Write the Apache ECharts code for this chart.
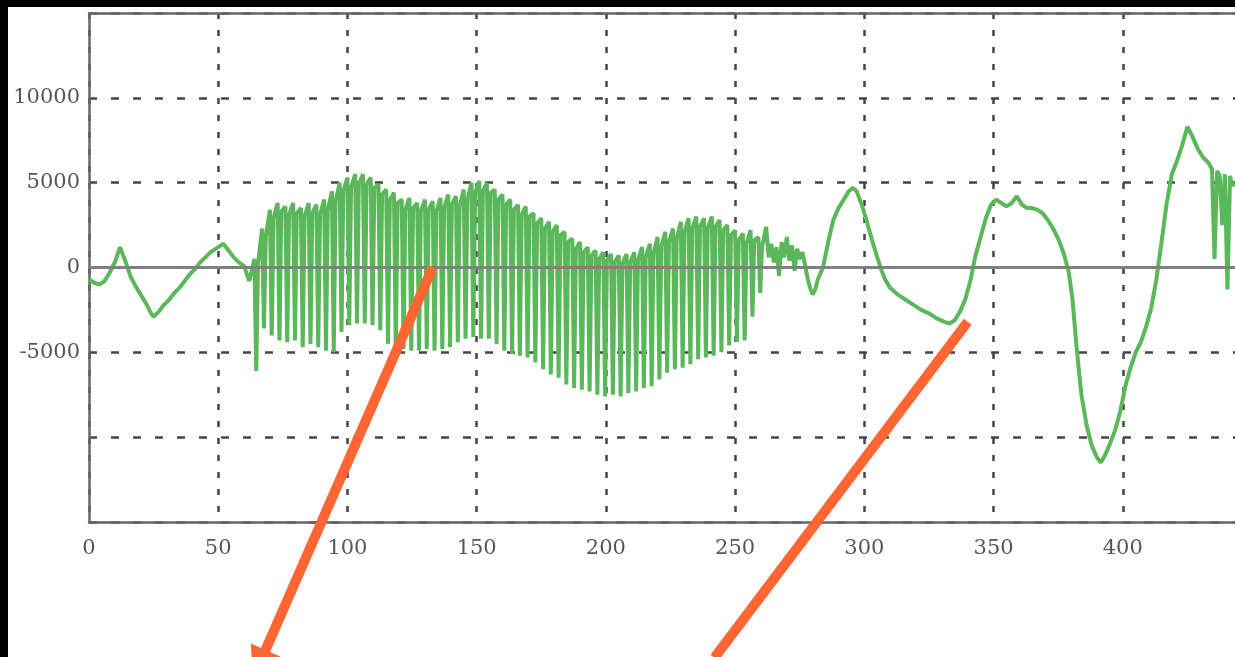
<!DOCTYPE html>
<html><head><meta charset="utf-8">
<script src="https://cdn.jsdelivr.net/npm/echarts@6/dist/echarts.min.js"></script>
<style>html,body{margin:0;padding:0;background:#fff}#c{width:1235px;height:657px}</style>
</head><body><div id="c"></div>
<script>
// tick labels shown on the axes
const yLabels = [10000, 5000, 0, -5000];
const xLabels = [0, 50, 100, 150, 200, 250, 300, 350, 400];

// signal: [sample, value]
const lead = [[0,-700],[2,-900],[4,-1000],[6,-800],[8,-300],[10,300],[12,1200],[14,400],[16,-500],[18,-1100],[20,-1600],[22,-2100],[24,-2700],[25,-2900],[27,-2600],[29,-2200],[31,-1900],[33,-1500],[35,-1200],[37,-800],[39,-400],[41,-100],[43,300],[45,600],[47,900],[49,1100],[51,1300],[52,1400],[54,1000],[56,600],[58,300],[60,100],[62,-800]];

const burst = [
[64,500],[64.7,-6100],[65.4,200],
[67,2300],[67.7,-3600],[68.4,1800],
[70,3400],[70.7,-4000],[71.4,2900],
[73,3800],[73.7,-4300],[74.4,3300],
[76,3600],[76.7,-4400],[77.4,3100],
[79,3800],[79.7,-4300],[80.4,3200],
[82,3500],[82.7,-4700],[83.4,3000],
[85,3800],[85.7,-4500],[86.4,3200],
[88,3700],[88.7,-4700],[89.4,3100],
[91,4000],[91.7,-4900],[92.4,3400],
[94,4500],[94.7,-5000],[95.4,3900],
[97,5000],[97.7,-3800],[98.4,4500],
[100,5300],[100.7,-3400],[101.4,4700],
[103,5500],[103.7,-3300],[104.4,4900],
[106,5500],[106.7,-3300],[107.4,4900],
[109,5300],[109.7,-3400],[110.4,4700],
[112,4900],[112.7,-3700],[113.4,4300],
[115,4600],[115.7,-4500],[116.4,4000],
[118,4400],[118.7,-4900],[119.4,3800],
[121,4000],[121.7,-4800],[122.4,3400],
[124,4100],[124.7,-4900],[125.4,3500],
[127,3800],[127.7,-4900],[128.4,3300],
[130,4000],[130.7,-4800],[131.4,3400],
[133,3900],[133.7,-4900],[134.4,3300],
[136,4100],[136.7,-4800],[137.4,3500],
[139,4300],[139.7,-4700],[140.4,3700],
[142,4200],[142.7,-4400],[143.4,3600],
[145,4600],[145.7,-4200],[146.4,4000],
[148,5000],[148.7,-4100],[149.4,4400],
[151,5100],[151.7,-4200],[152.4,4500],
[154,5000],[154.7,-4200],[155.4,4400],
[157,4600],[157.7,-4500],[158.4,4000],
[160,4300],[160.7,-4900],[161.4,3700],
[163,4000],[163.7,-5100],[164.4,3400],
[166,3700],[166.7,-5200],[167.4,3100],
[169,3600],[169.7,-5300],[170.4,3000],
[172,3200],[172.7,-5600],[173.4,2600],
[175,2900],[175.7,-6000],[176.4,2300],
[178,2700],[178.7,-6300],[179.4,2100],
[181,2500],[181.7,-6500],[182.4,1900],
[184,2100],[184.7,-6900],[185.4,1500],
[187,1700],[187.7,-7100],[188.4,1100],
[190,1500],[190.7,-7200],[191.4,900],
[193,1200],[193.7,-7300],[194.4,700],
[196,1000],[196.7,-7500],[197.4,500],
[199,900],[199.7,-7600],[200.4,400],
[202,800],[202.7,-7500],[203.4,300],
[205,700],[205.7,-7600],[206.4,200],
[208,800],[208.7,-7400],[209.4,300],
[211,900],[211.7,-7300],[212.4,400],
[214,1200],[214.7,-7100],[215.4,600],
[217,1400],[217.7,-7000],[218.4,800],
[220,1800],[220.7,-6600],[221.4,1200],
[223,2100],[223.7,-6200],[224.4,1500],
[226,2300],[226.7,-6000],[227.4,1700],
[229,2700],[229.7,-5900],[230.4,2100],
[232,2900],[232.7,-5700],[233.4,2300],
[235,3000],[235.7,-5400],[236.4,2400],
[238,2900],[238.7,-5300],[239.4,2300],
[241,3000],[241.7,-5200],[242.4,2400],
[244,2800],[244.7,-5000],[245.4,2200],
[247,2500],[247.7,-4600],[248.4,1900],
[250,2200],[250.7,-4400],[251.4,1600],
[253,2000],[253.7,-4300],[254.4,1400],
[256,2200],[256.7,-2900],[257.4,1600],
[259,1800],[259.7,-1500],[260.4,1200]
];

const noise = [[262,2400],[263,600],[264,1400],[265,300],[266,1200],[267,-500],[268,1500],[269,600],[270,1800],[271,400],[272,1300],[273,-200],[274,1100],[275,500],[276,900],[277,200],[278,-600],[279,-1200],[280,-1600],[281,-1300]];

const tail = [[282,-700],[284,0],[286,1500],[288,2800],[290,3500],[292,4000],[294,4500],[295.5,4700],[297,4500],[299,3700],[301,2700],[303,1600],[305,600],[306.5,-100],[308,-700],[310,-1200],[313,-1600],[316,-1900],[319,-2200],[322,-2500],[325,-2700],[328,-3000],[331,-3200],[333,-3300],[335,-3100],[337,-2600],[339,-1900],[341,-800],[343,700],[345,1800],[347,2900],[349,3700],[351,4000],[353,3800],[355,3600],[357,3800],[359,4200],[361,3700],[363,3500],[365,3500],[367,3400],[369,3200],[371,2800],[373,2300],[375,1700],[377,900],[379,-200],[380.5,-1800],[382,-4500],[384,-7500],[386,-9300],[388,-10500],[390,-11200],[391.5,-11500],[393,-11100],[395,-10400],[397,-9600],[399,-8500],[401,-7000],[403,-5900],[405,-5000],[407,-4400],[409,-3500],[411,-2400],[413,-700],[415,1500],[417,3800],[419,5500],[421,6300],[423,7200],[425,8300],[427,7700],[429,7000],[431,6500],[433,6200],[434.5,5800],[435.5,500],[436.5,5700],[437.5,5400],[438.5,2500],[439.5,5500],[440.5,-1300],[441.5,5400],[442.5,4800],[443,5000]];

const signal = lead.concat(burst, noise, tail);

// annotation arrows (data-space endpoints)
const arrows = [
  {from:[133,0], to:[67,-23000], head:true},
  {from:[340,-3200], to:[242,-23000], head:false}
];

const chart = echarts.init(document.getElementById('c'), null, {renderer:'canvas'});
const labelFont = {color:'#555', fontFamily:'DejaVu Serif', fontSize:21};
chart.setOption({
  animation:false,
  backgroundColor:'#fff',
  grid:{left:89, top:13, right:-17, bottom:135, containLabel:false, outerBoundsMode:'none'},
  xAxis:[{
    type:'value', min:0, max:450, interval:50,
    axisLine:{show:true, onZero:false, lineStyle:{color:'#666', width:2.5}},
    axisTick:{show:false},
    axisLabel:Object.assign({margin:16, formatter:v => xLabels.includes(v) ? String(v) : ''}, labelFont),
    splitLine:{show:true, lineStyle:{type:[6,11], color:'#444', width:2.5}}
  },{
    type:'value', position:'top', min:0, max:450,
    axisLine:{show:true, onZero:false, lineStyle:{color:'#666', width:2.5}},
    axisTick:{show:false}, axisLabel:{show:false}, splitLine:{show:false}
  }],
  yAxis:{
    type:'value', min:-15000, max:15000, interval:5000,
    axisLine:{show:true, onZero:false, lineStyle:{color:'#666', width:2.5}},
    axisTick:{show:false},
    axisLabel:Object.assign({margin:9, formatter:v => yLabels.includes(v) ? String(v) : ''}, labelFont),
    splitLine:{show:true, lineStyle:{type:[8,14], color:'#444', width:2.5}}
  },
  series:[{
    type:'line', data:signal, showSymbol:false, clip:true,
    lineStyle:{color:'#5ab85a', width:4},
    markLine:{silent:true, symbol:'none', label:{show:false},
      lineStyle:{color:'#808080', width:3, type:'solid'}, data:[{yAxis:0}]}
  }]
});

const g = [
  {type:'rect', shape:{x:0,y:0,width:8,height:657}, style:{fill:'#000'}, z:100},
  {type:'rect', shape:{x:0,y:0,width:1235,height:7}, style:{fill:'#000'}, z:100}
];
arrows.forEach(a => {
  const p1 = chart.convertToPixel({gridIndex:0}, a.from);
  const p2 = chart.convertToPixel({gridIndex:0}, a.to);
  g.push({type:'line', shape:{x1:p1[0],y1:p1[1],x2:p2[0],y2:p2[1]},
    style:{stroke:'#ff6633', lineWidth:10, lineCap:'butt'}, z:90});
  if (a.head) {
    const dx = p2[0]-p1[0], dy = p2[1]-p1[1], L = Math.hypot(dx,dy);
    const ux = dx/L, uy = dy/L, px = -uy, py = ux;
    const t = (650 - p1[1]) / uy;
    const bx = p1[0] + ux*t, by = 650;
    g.push({type:'polygon', shape:{points:[[bx+px*16,by+py*16],[bx-px*16,by-py*16],[bx+ux*32,by+uy*32]]},
      style:{fill:'#ff6633'}, z:90});
  }
});
chart.setOption({graphic:g});
</script></body></html>
